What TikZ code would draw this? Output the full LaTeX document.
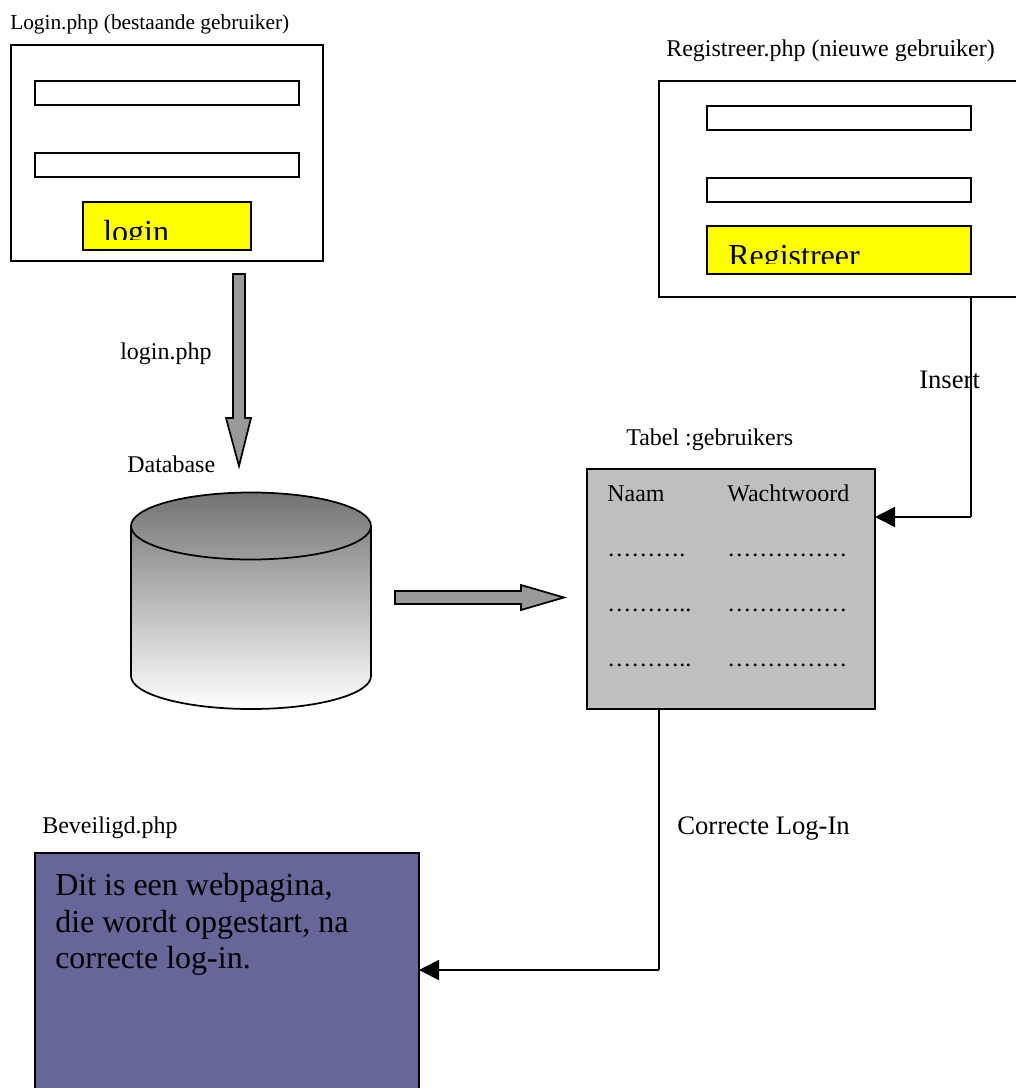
\documentclass[tikz,border=0pt]{standalone}
\usepackage{fontspec}
\setmainfont{Liberation Serif}
\usetikzlibrary{arrows.meta}
\definecolor{knopgeel}{rgb}{1,1,0}
\definecolor{paars}{rgb}{.4,.4,.6}
\tikzset{
	blok/.style = {draw, line width = 1.3pt, minimum width = 0, minimum height = 0, inner sep = 0pt, outer sep = 0pt},
	veld/.style = {blok, fill = white, anchor = north west},
	knop/.style = {blok, fill = knopgeel, anchor = north west},
	tekst/.style = {anchor = base west, inner sep = 0pt, font = \fontsize{18}{20}\selectfont},
	kleintekst/.style = {tekst, font = \fontsize{16}{18}\selectfont},
	midtekst/.style = {tekst, font = \fontsize{20}{22}\selectfont},
	grotetekst/.style = {tekst, font = \fontsize{24}{26}\selectfont},
	lijn/.style = {line width = 1.3pt},
	pijl/.style = {line width = 1.3pt, -{Triangle[length = 15pt, width = 15pt]}},
	blokpijl/.style = {draw, line width = 1.3pt, fill = black!40}
}
\begin{document}
\begin{tikzpicture} [x = .75pt, y = -.75pt]
	\useasboundingbox (0,0) rectangle (1016,1088);
	\clip (0,0) rectangle (1016,1088);

	% login
	\node [kleintekst] (loginkop) at (10,29.5) {Login.php (bestaande gebruiker)};
	\node [veld, minimum width = 234pt, minimum height = 162pt] (loginscherm) at (11,45) {};
	\node [veld, minimum width = 198pt, minimum height = 18pt] (loginveld1) at (35,81) {};
	\node [veld, minimum width = 198pt, minimum height = 18pt] (loginveld2) at (35,153) {};
	\node [knop, minimum width = 126pt, minimum height = 36pt] (loginknop) at (83,202) {};
	\begin{scope}
		\clip (83,202) rectangle (251,239);
		\node [grotetekst] (logintekst) at (103,242) {login};
	\end{scope}

	% registreer
	\node [tekst] (regkop) at (666,57) {Registreer.php (nieuwe gebruiker)};
	\node [veld, minimum width = 300pt, minimum height = 162pt] (regscherm) at (659,81) {};
	\node [veld, minimum width = 198pt, minimum height = 18pt] (regveld1) at (707,106) {};
	\node [veld, minimum width = 198pt, minimum height = 18pt] (regveld2) at (707,178) {};
	\node [knop, minimum width = 198pt, minimum height = 36pt] (regknop) at (707,226) {};
	\begin{scope}
		\clip (707,226) rectangle (971,263);
		\node [grotetekst] (regtekst) at (728,266) {Registreer};
	\end{scope}

	% pijl naar database
	\draw [blokpijl] (233,274) -- (245,274) -- (245,418) -- (251,418) -- (239,466) -- (226,418) -- (233,418) -- cycle;
	\node [tekst] (loginphp) at (120,359.5) {login.php};
	\node [tekst] (dbkop) at (127,472) {Database};

	% database
	\draw [line width = 1.3pt, top color = black!55, bottom color = white] (131,526) arc [start angle = 180, end angle = 360, x radius = 120, y radius = 33.5] -- (371,676) arc [start angle = 0, end angle = 180, x radius = 120, y radius = 33] -- cycle;
	\draw [lijn] (131,526) arc [start angle = 180, end angle = 0, x radius = 120, y radius = 33.5];

	% pijl naar tabel
	\draw [blokpijl] (395,591) -- (521,591) -- (521,585) -- (564,597.5) -- (521,610) -- (521,604) -- (395,604) -- cycle;

	% tabel
	\node [tekst] (tabelkop) at (626,445) {Tabel :gebruikers};
	\node [veld, fill = black!25, minimum width = 216pt, minimum height = 180pt] (tabel) at (587,469) {};
	\node [tekst] (naam) at (607,501) {Naam};
	\node [tekst] (wachtwoord) at (727,501) {Wachtwoord};
	\node [tekst] (naam1) at (607,556.5) {……….};
	\node [tekst] (wacht1) at (727,556.5) {……………};
	\node [tekst] (naam2) at (607,611.5) {………..};
	\node [tekst] (wacht2) at (727,611.5) {……………};
	\node [tekst] (naam3) at (607,666.5) {………..};
	\node [tekst] (wacht3) at (727,666.5) {……………};

	% beveiligd
	\node [tekst] (bevkop) at (42,833) {Beveiligd.php};
	\node [veld, fill = paars, minimum width = 288pt, minimum height = 200pt] (beveiligd) at (35,853) {};
	\node [grotetekst] (bevtekst1) at (55,895) {Dit is een webpagina,};
	\node [grotetekst] (bevtekst2) at (55,932) {die wordt opgestart, na};
	\node [grotetekst] (bevtekst3) at (55,968.5) {correcte log-in.};

	% verbindingen
	\coordinate (insertknik) at (971,517);
	\coordinate (correctknik) at (659,970);
	\draw [lijn] (regscherm.south -| insertknik) -- (insertknik);
	\draw [pijl] (insertknik) -- (tabel.east |- insertknik);
	\draw [lijn] (tabel.south -| correctknik) -- (correctknik);
	\draw [pijl] (correctknik) -- (beveiligd.east |- correctknik);
	\node [midtekst] (insert) at (919,388) {Insert};
	\node [midtekst] (correct) at (677,834) {Correcte Log-In};
\end{tikzpicture}
\end{document}
